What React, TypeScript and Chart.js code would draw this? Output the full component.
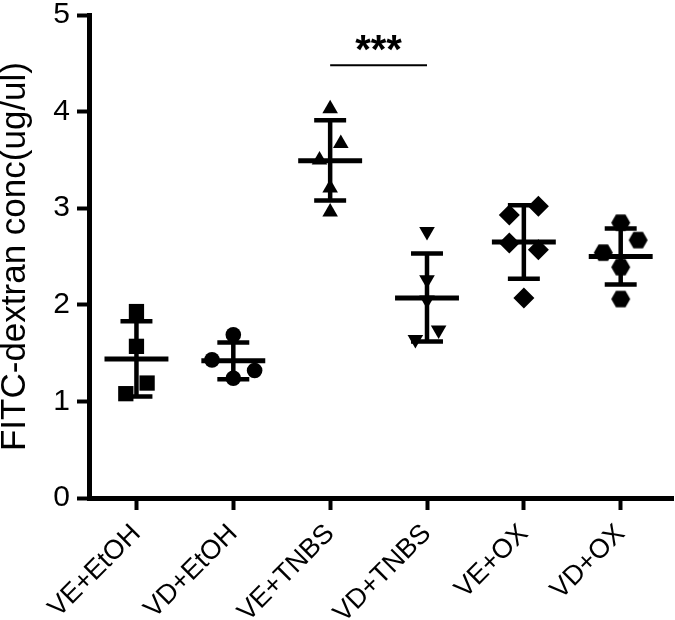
import React, { useEffect, useRef } from 'react';
import { Chart, registerables } from 'chart.js';

Chart.register(...registerables);

// ---- data ----
const categories = ['VE+EtOH', 'VD+EtOH', 'VE+TNBS', 'VD+TNBS', 'VE+OX', 'VD+OX'];
const yTickValues = [0, 1, 2, 3, 4, 5];
const yTitle = 'FITC-dextran conc(ug/ul)';

const veEtohValues = [1.93, 1.57, 1.19, 1.08];
const veEtohJitter = [0, 0, 0.11, -0.11];
const vdEtohValues = [1.69, 1.43, 1.32, 1.24];
const vdEtohJitter = [0, -0.22, 0.22, 0];
const veTnbsValues = [4.03, 3.67, 3.5, 3.21, 2.96];
const veTnbsJitter = [0, 0.11, -0.11, 0, 0];
const vdTnbsValues = [2.76, 2.26, 2.05, 1.74, 1.64];
const vdTnbsJitter = [0, 0, 0, 0.12, -0.12];
const veOxValues = [3.02, 2.93, 2.64, 2.57, 2.07];
const veOxJitter = [0.15, -0.15, -0.15, 0.15, 0];
const vdOxValues = [2.85, 2.67, 2.54, 2.39, 2.06];
const vdOxJitter = [0, 0.18, -0.18, 0, 0];

const groupMeans = [1.44, 1.42, 3.49, 2.07, 2.65, 2.5];
const groupUpper = [1.83, 1.61, 3.91, 2.53, 3.03, 2.79];
const groupLower = [1.05, 1.23, 3.08, 1.62, 2.27, 2.21];

const sigPair = [2, 3];
const sigValue = 4.48;
const sigLabel = '***';

const FONT = "Arial, 'Liberation Sans', Helvetica, sans-serif";

function makeHexagon(radius: number): HTMLCanvasElement {
  const c = document.createElement('canvas');
  const size = Math.ceil(radius * 2 + 2);
  c.width = size;
  c.height = size;
  const ctx = c.getContext('2d')!;
  ctx.fillStyle = '#000';
  ctx.beginPath();
  for (let k = 0; k < 6; k++) {
    const a = (Math.PI / 3) * k;
    const px = size / 2 + radius * Math.cos(a);
    const py = size / 2 + radius * Math.sin(a);
    if (k === 0) ctx.moveTo(px, py);
    else ctx.lineTo(px, py);
  }
  ctx.closePath();
  ctx.fill();
  return c;
}

function zeroMargins(axis: any) {
  axis.paddingLeft = 0;
  axis.paddingRight = 0;
  axis.paddingTop = 0;
  axis.paddingBottom = 0;
}

export default function App() {
  const ref = useRef<HTMLCanvasElement | null>(null);

  useEffect(() => {
    document.body.style.margin = '0';
    const canvas = ref.current;
    if (!canvas) return;

    const groups = [
      { values: veEtohValues, jitter: veEtohJitter, style: 'rect', radius: 10.8, rotation: 0 },
      { values: vdEtohValues, jitter: vdEtohJitter, style: 'circle', radius: 7.8, rotation: 0 },
      { values: veTnbsValues, jitter: veTnbsJitter, style: 'triangle', radius: 9, rotation: 0 },
      { values: vdTnbsValues, jitter: vdTnbsJitter, style: 'triangle', radius: 9, rotation: 180 },
      { values: veOxValues, jitter: veOxJitter, style: 'rectRot', radius: 10.5, rotation: 0 },
      { values: vdOxValues, jitter: vdOxJitter, style: makeHexagon(9.5), radius: 9.5, rotation: 0 },
    ];

    const datasets = groups.map((g, i) => ({
      label: categories[i],
      data: g.values.map((v, j) => ({ x: i + g.jitter[j], y: v })),
      pointStyle: g.style as any,
      pointRadius: g.radius,
      pointHoverRadius: g.radius,
      pointRotation: g.rotation,
      backgroundColor: '#000',
      borderColor: '#000',
      borderWidth: 0,
      showLine: false,
    }));

    const errorPlugin = {
      id: 'errorBars',
      afterDatasetsDraw(chart: any) {
        const { ctx, scales } = chart;
        const xs = scales.x;
        const ys = scales.y;
        ctx.save();
        ctx.strokeStyle = '#000';
        ctx.lineCap = 'butt';
        groupMeans.forEach((m, i) => {
          const cx = xs.getPixelForValue(i);
          const meanHalf = xs.getPixelForValue(i + 0.33) - cx;
          const capHalf = xs.getPixelForValue(i + 0.165) - cx;
          const yM = ys.getPixelForValue(m);
          const yU = ys.getPixelForValue(groupUpper[i]);
          const yL = ys.getPixelForValue(groupLower[i]);
          ctx.lineWidth = 4.5;
          ctx.beginPath();
          ctx.moveTo(cx, yU);
          ctx.lineTo(cx, yL);
          ctx.moveTo(cx - capHalf, yU);
          ctx.lineTo(cx + capHalf, yU);
          ctx.moveTo(cx - capHalf, yL);
          ctx.lineTo(cx + capHalf, yL);
          ctx.stroke();
          ctx.lineWidth = 5;
          ctx.beginPath();
          ctx.moveTo(cx - meanHalf, yM);
          ctx.lineTo(cx + meanHalf, yM);
          ctx.stroke();
        });
        // significance bar
        const x1 = xs.getPixelForValue(sigPair[0]);
        const x2 = xs.getPixelForValue(sigPair[1]);
        const yS = ys.getPixelForValue(sigValue);
        ctx.lineWidth = 2;
        ctx.beginPath();
        ctx.moveTo(x1, yS);
        ctx.lineTo(x2, yS);
        ctx.stroke();
        ctx.fillStyle = '#000';
        ctx.font = `bold 40px ${FONT}`;
        ctx.textAlign = 'center';
        ctx.textBaseline = 'alphabetic';
        ctx.fillText(sigLabel, (x1 + x2) / 2, yS - 2);
        ctx.restore();
      },
    };

    const chart = new Chart(canvas, {
      type: 'scatter',
      data: { datasets: datasets as any },
      options: {
        animation: false,
        responsive: false,
        devicePixelRatio: 1,
        layout: { autoPadding: false, padding: { top: 15, right: 2, left: 0, bottom: 0 } },
        plugins: {
          legend: { display: false },
          tooltip: { enabled: false },
        },
        scales: {
          x: {
            type: 'linear',
            min: -0.49,
            max: 5.54,
            afterBuildTicks: (axis: any) => {
              axis.ticks = categories.map((_, i) => ({ value: i }));
            },
            afterFit: (axis: any) => {
              axis.height = 122;
              zeroMargins(axis);
            },
            ticks: {
              autoSkip: false,
              minRotation: 45,
              maxRotation: 45,
              color: '#000',
              padding: 8,
              font: { family: FONT, size: 27 },
              callback: (v: any) => categories[Math.round(Number(v))] ?? '',
            },
            grid: {
              display: true,
              drawOnChartArea: false,
              drawTicks: true,
              tickLength: 12,
              tickWidth: 4,
              tickColor: '#000',
            },
            border: { display: true, color: '#000', width: 5 },
          },
          y: {
            type: 'linear',
            min: 0,
            max: 5,
            afterBuildTicks: (axis: any) => {
              axis.ticks = yTickValues.map((v) => ({ value: v }));
            },
            afterFit: (axis: any) => {
              axis.width = 89;
              zeroMargins(axis);
            },
            ticks: {
              color: '#000',
              padding: 7,
              font: { family: FONT, size: 30, lineHeight: 1 },
            },
            grid: {
              display: true,
              drawOnChartArea: false,
              drawTicks: true,
              tickLength: 12,
              tickWidth: 4,
              tickColor: '#000',
            },
            border: { display: true, color: '#000', width: 5 },
            title: {
              display: true,
              text: yTitle,
              color: '#000',
              padding: 0,
              font: { family: FONT, size: 35, lineHeight: 0.86 },
            },
          },
        },
      },
      plugins: [errorPlugin],
    });

    return () => chart.destroy();
  }, []);

  return (
    <div style={{ width: 675, height: 620 }}>
      <canvas ref={ref} width={675} height={620} style={{ display: 'block' }} />
    </div>
  );
}
